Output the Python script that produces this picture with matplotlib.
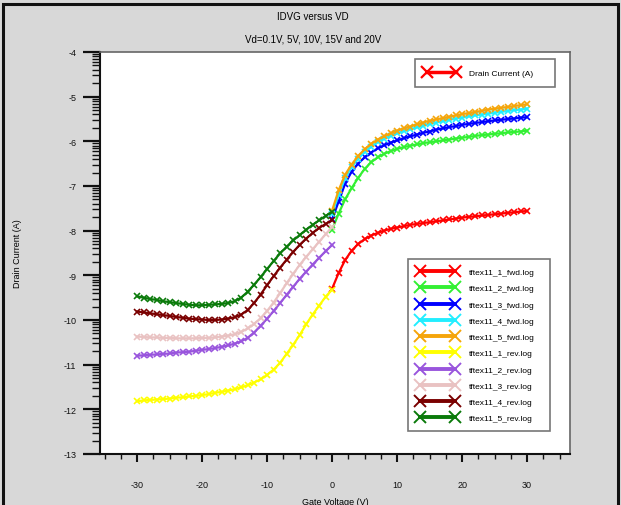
import numpy as np
import matplotlib
matplotlib.use("Agg")
import matplotlib.pyplot as plt
from matplotlib.lines import Line2D
from matplotlib.patches import Rectangle
from matplotlib.ticker import FixedLocator

plt.rcParams['font.family'] = ['Liberation Sans', 'DejaVu Sans']
plt.rcParams['axes.unicode_minus'] = False

# Gate voltage sweeps (V)
vg_fwd = np.arange(0, 31)
vg_rev = np.arange(-30, 1)

# log10 of drain current (A), forward sweeps 0 -> 30 V
fwd_1 = [-9.30, -8.95, -8.66, -8.45, -8.30, -8.19, -8.11, -8.05, -8.00, -7.96, -7.93,
         -7.90, -7.87, -7.85, -7.83, -7.81, -7.79, -7.77, -7.75, -7.73, -7.71,
         -7.69, -7.68, -7.66, -7.65, -7.63, -7.62, -7.60, -7.59, -7.57, -7.56]
fwd_2 = [-7.98, -7.62, -7.30, -7.05, -6.82, -6.62, -6.47, -6.36, -6.28, -6.22, -6.17,
         -6.13, -6.10, -6.07, -6.04, -6.02, -6.00, -5.98, -5.96, -5.94, -5.92,
         -5.90, -5.88, -5.86, -5.85, -5.83, -5.82, -5.80, -5.79, -5.78, -5.76]
fwd_3 = [-7.75, -7.35, -6.95, -6.68, -6.50, -6.36, -6.25, -6.16, -6.09, -6.03, -5.98,
         -5.93, -5.89, -5.85, -5.81, -5.78, -5.74, -5.71, -5.68, -5.66, -5.63,
         -5.61, -5.59, -5.57, -5.55, -5.53, -5.52, -5.50, -5.49, -5.47, -5.46]
fwd_4 = [-7.62, -7.20, -6.83, -6.58, -6.39, -6.24, -6.12, -6.02, -5.94, -5.88, -5.82,
         -5.77, -5.73, -5.69, -5.65, -5.61, -5.58, -5.55, -5.52, -5.49, -5.47,
         -5.44, -5.42, -5.40, -5.38, -5.36, -5.34, -5.32, -5.30, -5.29, -5.27]
fwd_5 = [-7.55, -7.10, -6.75, -6.52, -6.33, -6.18, -6.06, -5.96, -5.89, -5.82, -5.76,
         -5.71, -5.67, -5.62, -5.58, -5.54, -5.51, -5.48, -5.45, -5.42, -5.39,
         -5.37, -5.34, -5.32, -5.29, -5.27, -5.25, -5.23, -5.21, -5.19, -5.17]

# log10 of drain current (A), reverse sweeps -30 -> 0 V
rev_1 = [-11.82, -11.80, -11.79, -11.78, -11.77, -11.76, -11.74, -11.73, -11.71, -11.70, -11.68,
         -11.66, -11.63, -11.61, -11.58, -11.55, -11.51, -11.46, -11.40, -11.33, -11.23,
         -11.11, -10.96, -10.76, -10.56, -10.34, -10.10, -9.88, -9.68, -9.48, -9.32]
rev_2 = [-10.80, -10.79, -10.78, -10.77, -10.76, -10.75, -10.73, -10.72, -10.71, -10.69, -10.67,
         -10.65, -10.63, -10.60, -10.57, -10.53, -10.48, -10.40, -10.28, -10.13, -9.97,
         -9.80, -9.62, -9.44, -9.26, -9.08, -8.92, -8.76, -8.61, -8.46, -8.32]
rev_3 = [-10.37, -10.38, -10.39, -10.39, -10.40, -10.40, -10.41, -10.41, -10.41, -10.41, -10.40,
         -10.40, -10.39, -10.37, -10.35, -10.32, -10.27, -10.19, -10.09, -9.96, -9.80,
         -9.61, -9.40, -9.18, -8.97, -8.77, -8.59, -8.42, -8.25, -8.08, -7.92]
rev_4 = [-9.81, -9.83, -9.85, -9.87, -9.89, -9.91, -9.93, -9.95, -9.97, -9.98, -9.99,
         -10.00, -10.00, -9.99, -9.97, -9.94, -9.88, -9.78, -9.62, -9.43, -9.22,
         -9.02, -8.83, -8.65, -8.48, -8.32, -8.18, -8.05, -7.94, -7.85, -7.77]
rev_5 = [-9.47, -9.50, -9.53, -9.55, -9.58, -9.60, -9.62, -9.64, -9.66, -9.67, -9.67,
         -9.66, -9.65, -9.64, -9.62, -9.58, -9.50, -9.37, -9.21, -9.04, -8.86,
         -8.68, -8.51, -8.36, -8.22, -8.10, -7.98, -7.87, -7.77, -7.67, -7.58]

labels = ["tftex11_1_fwd.log", "tftex11_2_fwd.log", "tftex11_3_fwd.log",
          "tftex11_4_fwd.log", "tftex11_5_fwd.log", "tftex11_1_rev.log",
          "tftex11_2_rev.log", "tftex11_3_rev.log", "tftex11_4_rev.log",
          "tftex11_5_rev.log"]
colors = ["#ff0000", "#33f033", "#0000ff", "#22eeff", "#f5a50a",
          "#ffff00", "#9955dd", "#e9c2c2", "#7a0000", "#0a7a0a"]

series = [(vg_fwd, fwd_1), (vg_fwd, fwd_2), (vg_fwd, fwd_3), (vg_fwd, fwd_4),
          (vg_fwd, fwd_5), (vg_rev, rev_1), (vg_rev, rev_2), (vg_rev, rev_3),
          (vg_rev, rev_4), (vg_rev, rev_5)]

fig = plt.figure(figsize=(6.21, 5.06), dpi=100, facecolor="#d8d8d8")
fig.patches.append(Rectangle((3 / 621, -0.05), 615 / 621, 1.05 - 5 / 506,
                             transform=fig.transFigure, fill=False,
                             edgecolor="#111111", linewidth=2.2))

ax = fig.add_axes([100 / 621, 51 / 506, 470 / 621, 402 / 506])
ax.set_facecolor("white")

for (x, y), c in zip(series, colors):
    ax.plot(x, y, color=c, lw=1.6, marker="x", ms=4.5, mew=1.2)

ax.set_xlim(-35.7, 36.6)
ax.set_ylim(-13, -4)

# axis styling
for side in ("left", "bottom"):
    ax.spines[side].set_color("#111111")
    ax.spines[side].set_linewidth(1.5)
for side in ("top", "right"):
    ax.spines[side].set_color("#666666")
    ax.spines[side].set_linewidth(1.2)

ax.set_xticks(np.arange(-30, 31, 10))
ax.xaxis.set_minor_locator(FixedLocator([v for v in np.arange(-35, 35.1, 2.5)
                                         if v % 10 != 0]))
ax.set_yticks(np.arange(-13, -3))
ax.yaxis.set_minor_locator(FixedLocator([n + np.log10(k) for n in range(-13, -4)
                                         for k in range(2, 10)]))

ax.tick_params(axis="x", which="major", direction="out", length=6, width=1.5,
               pad=13, labelsize=6.5, colors="#111111")
ax.tick_params(axis="x", which="minor", direction="out", length=3.5, width=1.0,
               colors="#111111")
ax.tick_params(axis="y", which="major", direction="out", length=12, width=1.6,
               pad=5, labelsize=6.5, colors="#111111")
ax.tick_params(axis="y", which="minor", direction="out", length=6, width=1.0,
               colors="#111111")

ax.set_xlabel("Gate Voltage (V)", fontsize=6.5)
ax.xaxis.set_label_coords(0.5, -0.108)
ax.set_ylabel("Drain Current (A)", fontsize=6.5)
ax.yaxis.set_label_coords(-0.166, 0.5)

fig.text(313 / 621, 1 - 17 / 506, "IDVG versus VD", ha="center", va="center",
         fontsize=7)
fig.text(313 / 621, 1 - 40 / 506, "Vd=0.1V, 5V, 10V, 15V and 20V", ha="center",
         va="center", fontsize=7)

# quantity legend
qty = [Line2D([], [], color="#ff0000", lw=2.5, marker="x", ms=8, mew=1.6)]
leg1 = ax.legend(qty, ["Drain Current (A)"], loc="upper left", numpoints=2,
                 bbox_to_anchor=(0.670, 0.903, 0.298, 0.08), mode="expand",
                 fontsize=6, frameon=True, fancybox=False, handlelength=4.0,
                 handletextpad=1.3, borderpad=1.2, borderaxespad=0)
leg1.get_frame().set_edgecolor("#555555")
leg1.get_frame().set_linewidth(1.2)
ax.add_artist(leg1)

# file legend
handles = [Line2D([], [], color=c, lw=2.8, marker="x", ms=8, mew=1.4)
           for c in colors]
leg2 = ax.legend(handles, labels, loc="upper left", numpoints=2,
                 bbox_to_anchor=(0.655, 0.055, 0.302, 0.43), mode="expand",
                 fontsize=6, frameon=True, fancybox=False, handlelength=4.8,
                 handletextpad=1.4, labelspacing=1.01, borderpad=1.1,
                 borderaxespad=0)
leg2.get_frame().set_edgecolor("#555555")
leg2.get_frame().set_linewidth(1.2)

fig.savefig("out.png", dpi=100, facecolor=fig.get_facecolor())
